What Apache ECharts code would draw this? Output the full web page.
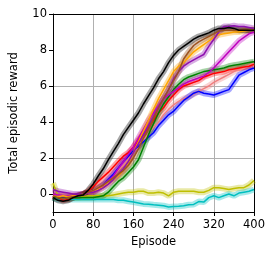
<!DOCTYPE html>
<html><head><meta charset="utf-8">
<script src="https://cdn.jsdelivr.net/npm/echarts@6/dist/echarts.min.js"></script>
<style>html,body{margin:0;padding:0;background:#fff}#c{width:274px;height:258px}</style>
</head><body><div id="c"></div>
<script>
// episodes 0..400 step 10
const episodes = [0,10,20,30,40,50,60,70,80,90,100,110,120,130,140,150,160,170,180,190,200,210,220,230,240,250,260,270,280,290,300,310,320,330,340,350,360,370,380,390,400];
const yTicks = [0,2,4,6,8,10];
const xTicks = [0,80,160,240,320,400];

const yellowS = [0.6,-0.1,-0.2,-0.25,-0.2,-0.2,-0.15,-0.1,-0.1,-0.1,-0.1,-0.1,-0.05,0.0,0.05,0.1,0.1,0.15,0.15,0.05,0.05,0.1,0.05,-0.1,0.1,0.15,0.15,0.15,0.15,0.1,0.1,0.2,0.35,0.35,0.3,0.25,0.3,0.35,0.35,0.5,0.75];
const cyanS = [-0.2,-0.3,-0.3,-0.3,-0.3,-0.3,-0.3,-0.3,-0.3,-0.3,-0.3,-0.3,-0.3,-0.35,-0.35,-0.4,-0.45,-0.5,-0.55,-0.57,-0.6,-0.62,-0.65,-0.72,-0.7,-0.68,-0.65,-0.6,-0.58,-0.42,-0.45,-0.2,-0.1,-0.2,-0.1,0.0,-0.1,0.05,0.1,0.15,0.25];
const blueS = [-0.1,-0.15,-0.2,-0.2,-0.15,-0.1,0.0,0.05,0.1,0.3,0.5,0.8,1.1,1.45,1.8,2.1,2.4,2.65,2.9,3.15,3.4,3.8,4.1,4.4,4.6,4.9,5.2,5.4,5.6,5.7,5.6,5.55,5.5,5.6,5.7,5.8,6.2,6.6,6.75,6.9,7.0];
const salmonS = [-0.1,-0.15,-0.2,-0.2,-0.15,-0.1,0.0,0.1,0.2,0.35,0.5,0.7,1.0,1.3,1.6,1.95,2.3,2.65,3.0,3.35,3.7,4.0,4.4,4.7,4.95,5.15,5.3,5.4,5.55,5.7,5.85,6.0,6.2,6.35,6.5,6.65,6.8,6.95,7.05,7.15,7.3];
const redS = [-0.1,-0.2,-0.35,-0.3,-0.2,-0.1,0.0,0.15,0.4,0.7,0.95,1.2,1.5,1.8,2.1,2.3,2.6,3.0,3.3,3.7,4.1,4.5,4.8,5.2,5.5,5.8,6.0,6.1,6.2,6.3,6.5,6.6,6.7,6.75,6.8,6.9,6.95,7.0,7.05,7.1,7.2];
const greenS = [-0.2,-0.2,-0.25,-0.2,-0.2,-0.2,-0.2,-0.2,-0.2,-0.15,-0.1,0.1,0.4,0.7,0.9,1.2,1.5,1.9,2.6,3.3,3.9,4.5,5.0,5.4,5.8,6.1,6.35,6.5,6.6,6.7,6.8,6.85,6.9,6.95,7.0,7.1,7.15,7.2,7.25,7.3,7.35];
const magentaS = [0.0,-0.05,-0.1,-0.1,-0.1,-0.05,0.0,0.05,0.15,0.3,0.5,0.75,1.0,1.4,1.8,2.2,2.6,3.1,3.6,4.1,4.5,4.9,5.3,5.5,5.7,5.9,6.1,6.25,6.35,6.45,6.55,6.75,7.0,7.3,7.6,7.9,8.2,8.5,8.7,8.9,9.0];
const orangeS = [-0.1,-0.15,-0.1,-0.15,-0.1,-0.1,0.0,0.05,0.1,0.25,0.4,0.6,0.8,1.0,1.3,1.7,2.3,2.9,3.5,4.1,4.7,5.3,5.8,6.3,6.8,7.1,7.3,7.6,7.9,8.1,8.3,8.5,8.7,8.85,8.9,8.95,9.0,9.0,9.05,9.1,9.15];
const purpleS = [0.25,0.15,0.1,0.05,0.0,0.0,0.0,0.05,0.1,0.2,0.35,0.55,0.8,1.1,1.4,1.8,2.3,2.8,3.3,3.8,4.3,4.8,5.3,5.8,6.4,6.8,7.1,7.3,7.45,7.6,7.75,8.2,8.6,9.0,9.3,9.3,9.35,9.3,9.3,9.25,9.2];
const brownS = [-0.1,-0.2,-0.25,-0.2,-0.15,-0.1,0.0,0.1,0.2,0.35,0.5,0.7,0.9,1.1,1.3,1.6,2.0,2.5,3.1,3.6,4.2,4.8,5.3,5.8,6.3,6.8,7.5,7.9,8.25,8.45,8.6,8.75,8.9,9.05,9.1,9.1,9.1,9.1,9.15,9.1,9.1];
const blackS = [-0.2,-0.35,-0.4,-0.35,-0.2,-0.1,-0.05,0.2,0.55,1.0,1.4,1.9,2.35,2.8,3.3,3.7,4.1,4.5,5.0,5.45,5.9,6.4,6.8,7.3,7.7,8.0,8.2,8.4,8.6,8.75,8.85,8.95,9.1,9.2,9.2,9.25,9.2,9.1,9.1,9.1,9.1];

const seriesList = [
  ['yellow', yellowS, '#bfbf00'],
  ['cyan', cyanS, '#00bfbf'],
  ['salmon', salmonS, '#f08080'],
  ['blue', blueS, '#0000ff'],
  ['red', redS, '#ff0000'],
  ['green', greenS, '#008000'],
  ['magenta', magentaS, '#bf00bf'],
  ['orange', orangeS, '#ffa500'],
  ['purple', purpleS, '#8e10b0'],
  ['brown', brownS, '#9c5320'],
  ['black', blackS, '#000000']
];

const series = [];
seriesList.forEach(([name, vals, color]) => {
  const data = episodes.map((e, i) => [e, vals[i]]);
  series.push({type:'line', name: name + '_band', data, showSymbol:false, silent:true, smooth:false,
    lineStyle:{color, width:6, opacity:0.35}, z:2});
  series.push({type:'line', name, data, showSymbol:false, silent:true, smooth:false,
    lineStyle:{color, width:1.5}, z:3});
});

const font = 'DejaVu Sans';
const axisText = {fontFamily:font, fontSize:11.5, color:'#000'};
const chart = echarts.init(document.getElementById('c'), null, {renderer:'canvas'});
chart.setOption({
  animation:false,
  backgroundColor:'#fff',
  grid:{left:50, right:20, top:14, bottom:46},
  xAxis:[{type:'value', min:0, max:400, interval:80, position:'bottom',
    name:'Episode', nameLocation:'middle', nameGap:21, nameTextStyle:axisText,
    axisLine:{show:true, onZero:false, lineStyle:{color:'#000', width:1}},
    axisTick:{show:true, inside:false, length:4, lineStyle:{color:'#000'}},
    axisLabel:Object.assign({margin:7, formatter: v => xTicks.includes(v) ? String(v) : ''}, axisText),
    splitLine:{show:true, lineStyle:{color:'#b0b0b0', width:1}}},
   {type:'value', min:0, max:400, position:'top',
    axisLine:{show:true, onZero:false, lineStyle:{color:'#000', width:1}},
    axisTick:{show:false}, axisLabel:{show:false}, splitLine:{show:false}}],
  yAxis:[{type:'value', min:-1, max:10, interval:1, position:'left',
    name:'Total episodic reward', nameLocation:'middle', nameGap:33, nameRotate:90, nameTextStyle:axisText,
    axisLine:{show:true, onZero:false, lineStyle:{color:'#000', width:1}},
    axisTick:{show:true, inside:false, length:4, lineStyle:{color:'#000'}, customValues: yTicks},
    axisLabel:Object.assign({margin:6, customValues: yTicks}, axisText),
    splitLine:{show:true, lineStyle:{color:['rgba(0,0,0,0)','#b0b0b0'], width:1}}},
   {type:'value', min:-1, max:10, position:'right',
    axisLine:{show:true, onZero:false, lineStyle:{color:'#000', width:1}},
    axisTick:{show:false}, axisLabel:{show:false}, splitLine:{show:false}}],
  series
});
</script></body></html>
